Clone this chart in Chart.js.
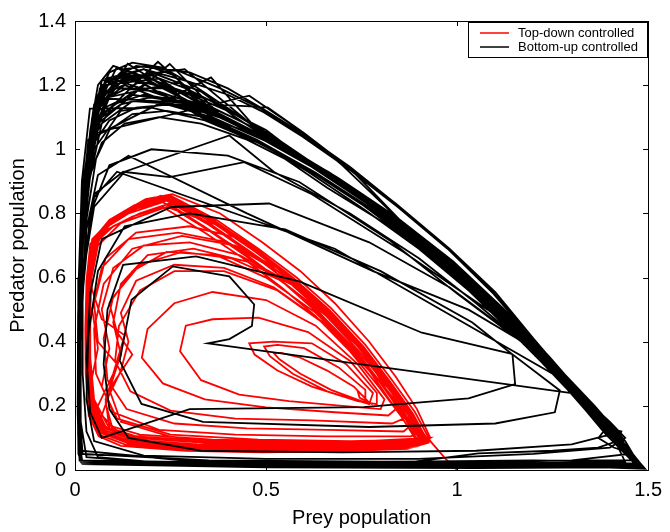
<!DOCTYPE html>
<html>
<head>
<meta charset="utf-8">
<script src="https://cdn.jsdelivr.net/npm/chart.js@4.4.1/dist/chart.umd.min.js"></script>
<style>
    body { margin: 0; background: #fff; }
</style>
</head>
<body>
<canvas id="phaseChart" width="670" height="532"></canvas>
<script>
var seriesNames = ["Top-down controlled", "Bottom-up controlled"];
var seriesColors = ["#ff0000", "#000000"];
var preyTicks = [0, 0.5, 1, 1.5];
var preyTickLabels = ["0", "0.5", "1", "1.5"];
var predatorTicks = [0, 0.2, 0.4, 0.6, 0.8, 1, 1.2, 1.4];
var predatorTickLabels = ["0", "0.2", "0.4", "0.6", "0.8", "1", "1.2", "1.4"];

// [prey, predator] pairs
var topDownTransient = [
    [0.76,0.225],[0.74,0.245],[0.745,0.225],[0.77,0.21],
    [0.73,0.26],[0.66,0.31],[0.59,0.35],[0.54,0.365],[0.52,0.365],[0.535,0.345],[0.59,0.30],[0.67,0.25],[0.76,0.21],
    [0.76,0.25],[0.69,0.32],[0.60,0.38],[0.53,0.39],[0.495,0.385],[0.51,0.355],[0.57,0.30],[0.66,0.245],[0.77,0.205],
    [0.78,0.24],[0.71,0.33],[0.62,0.395],[0.52,0.40],[0.456,0.395],[0.47,0.36],[0.53,0.31],[0.62,0.26],[0.74,0.215],[0.79,0.205],
    [0.79,0.24],[0.72,0.34],[0.61,0.43],[0.48,0.475],[0.36,0.47],[0.29,0.45],[0.275,0.37],[0.33,0.28],[0.43,0.235],[0.56,0.215],[0.70,0.20],[0.80,0.19],
    [0.81,0.22],[0.74,0.33],[0.63,0.45],[0.50,0.53],[0.36,0.555],[0.26,0.52],[0.19,0.44],[0.175,0.35],[0.23,0.27],[0.34,0.22],[0.50,0.195],[0.68,0.18],[0.82,0.17],
    [0.84,0.19],[0.77,0.31],[0.66,0.45],[0.53,0.56],[0.39,0.62],[0.26,0.62],[0.17,0.56],[0.115,0.45],[0.105,0.34],[0.145,0.245],[0.25,0.185],[0.42,0.16],[0.62,0.155],[0.83,0.145],
    [0.86,0.16],[0.79,0.30],[0.68,0.46],[0.54,0.59],[0.41,0.66],[0.28,0.68],[0.17,0.64],[0.10,0.54],[0.075,0.41],[0.085,0.28],[0.135,0.19],[0.26,0.145],[0.45,0.13],[0.66,0.125],[0.86,0.12],
    [0.88,0.14],[0.81,0.28],[0.70,0.45],[0.56,0.61],[0.42,0.70],[0.28,0.73],[0.15,0.69],[0.075,0.58],[0.05,0.44],[0.055,0.30],[0.10,0.18],[0.22,0.125],[0.42,0.11],[0.66,0.105],[0.88,0.105],
    [0.90,0.12],[0.83,0.26],[0.71,0.43],[0.57,0.58],[0.43,0.67],[0.30,0.71],[0.18,0.70],[0.10,0.63],[0.07,0.50],[0.09,0.38],[0.07,0.26],[0.11,0.16],[0.25,0.11],[0.48,0.095],[0.72,0.09],[0.90,0.095],
    [0.91,0.11],[0.84,0.25],[0.72,0.42],[0.58,0.57],[0.45,0.65],[0.31,0.69],[0.19,0.67],[0.12,0.58],[0.10,0.46],[0.12,0.36],[0.09,0.25],[0.12,0.15],[0.26,0.10],[0.50,0.085],[0.74,0.083],[0.91,0.09],
    [0.90,0.13],[0.82,0.27],[0.71,0.44],[0.57,0.60],[0.44,0.72],[0.30,0.76],[0.16,0.74],[0.08,0.66],[0.05,0.52],[0.06,0.40],[0.11,0.33],[0.08,0.22],[0.09,0.13],[0.18,0.085],[0.40,0.07],[0.66,0.068],[0.89,0.075],
    [0.91,0.10],[0.85,0.22],[0.76,0.36],[0.65,0.50],[0.52,0.64],[0.38,0.76],[0.24,0.82],[0.12,0.77],[0.06,0.70],[0.04,0.58],[0.07,0.47],[0.13,0.42],[0.10,0.30],[0.06,0.20],[0.07,0.12],[0.14,0.09],[0.34,0.075],[0.60,0.07],[0.85,0.075],
    [0.90,0.10],[0.84,0.21],[0.75,0.35],[0.63,0.49],[0.50,0.60],[0.37,0.67],[0.24,0.68],[0.15,0.62],[0.09,0.52],[0.11,0.43],[0.15,0.36],[0.10,0.27],[0.07,0.17],[0.12,0.11],[0.30,0.09],[0.55,0.085],[0.80,0.085],
    [0.91,0.09],[0.85,0.20],[0.76,0.33],[0.65,0.46],[0.52,0.57],[0.39,0.63],[0.26,0.64],[0.16,0.59],[0.12,0.49],[0.14,0.40],[0.12,0.31],[0.08,0.21],[0.10,0.12],[0.22,0.08],[0.45,0.07],[0.72,0.07],[0.90,0.08],
    [0.92,0.10],[0.86,0.21],[0.77,0.35],[0.66,0.49],[0.53,0.62],[0.40,0.71],[0.27,0.74],[0.14,0.72],[0.07,0.63],[0.045,0.50],[0.06,0.38],[0.04,0.26],[0.05,0.15],[0.10,0.10],[0.28,0.08],[0.55,0.078],[0.82,0.08]
];

var topDownCycle = [
    [0.90,0.085],[0.86,0.17],[0.80,0.27],[0.73,0.38],[0.64,0.49],[0.55,0.58],[0.45,0.67],[0.35,0.75],[0.245,0.83],[0.17,0.80],[0.10,0.76],[0.055,0.71],[0.04,0.60],[0.035,0.46],[0.035,0.32],[0.045,0.20],[0.075,0.125],[0.15,0.095],[0.32,0.08],[0.52,0.075],[0.72,0.075],[0.88,0.08],
    [0.91,0.09],[0.87,0.175],[0.81,0.275],[0.74,0.385],[0.65,0.50],[0.56,0.595],[0.46,0.68],[0.35,0.77],[0.235,0.85],[0.16,0.82],[0.095,0.78],[0.045,0.72],[0.033,0.60],[0.03,0.46],[0.03,0.31],[0.04,0.19],[0.07,0.115],[0.14,0.085],[0.32,0.07],[0.52,0.066],[0.72,0.068],[0.89,0.075],
    [0.92,0.095],[0.88,0.18],[0.82,0.28],[0.75,0.39],[0.66,0.505],[0.57,0.60],[0.47,0.69],[0.36,0.78],[0.24,0.855],[0.165,0.83],[0.10,0.785],[0.05,0.725],[0.036,0.61],[0.032,0.47],[0.033,0.32],[0.042,0.20],[0.072,0.12],[0.145,0.09],[0.33,0.075],[0.53,0.07],[0.73,0.07],[0.90,0.078],
    [0.915,0.09],[0.875,0.18],[0.815,0.285],[0.745,0.395],[0.655,0.51],[0.565,0.605],[0.465,0.695],[0.355,0.785],[0.23,0.845],[0.15,0.81],[0.085,0.765],[0.042,0.705],[0.03,0.59],[0.028,0.45],[0.03,0.30],[0.038,0.18],[0.065,0.11],[0.13,0.08],[0.30,0.065],[0.50,0.06],[0.70,0.062],[0.88,0.07],
    [0.925,0.085],[0.885,0.175],[0.825,0.275],[0.755,0.385],[0.665,0.50],[0.575,0.595],[0.475,0.685],[0.365,0.775],[0.25,0.85],[0.175,0.835],[0.11,0.79],[0.06,0.73],[0.04,0.62],[0.036,0.48],[0.036,0.33],[0.046,0.21],[0.078,0.13],[0.155,0.10],[0.34,0.085],[0.54,0.08],[0.74,0.08],[0.91,0.085],
    [0.92,0.09],[0.875,0.17],[0.81,0.27],[0.74,0.375],[0.65,0.49],[0.56,0.585],[0.46,0.675],[0.35,0.765],[0.24,0.84],[0.16,0.815],[0.09,0.77],[0.045,0.715],[0.032,0.60],[0.029,0.46],[0.031,0.31],[0.04,0.19],[0.068,0.115],[0.14,0.083],[0.31,0.068],[0.51,0.063],[0.71,0.065],[0.89,0.072],
    [0.91,0.095],[0.87,0.185],[0.805,0.29],[0.735,0.40],[0.645,0.515],[0.555,0.61],[0.455,0.70],[0.345,0.79],[0.225,0.855],[0.155,0.825],[0.09,0.78],[0.048,0.72],[0.034,0.61],[0.031,0.47],[0.032,0.32],[0.041,0.195],[0.07,0.12],[0.14,0.088],[0.32,0.072],[0.52,0.068],[0.72,0.07],[0.90,0.076],
    [0.92,0.088],[0.88,0.172],[0.82,0.272],[0.75,0.382],[0.66,0.496],[0.57,0.592],[0.47,0.682],[0.36,0.772],[0.245,0.845],[0.17,0.82],[0.10,0.775],[0.052,0.715],[0.037,0.60],[0.033,0.46],[0.034,0.315],[0.044,0.195],[0.074,0.118],[0.15,0.088],[0.33,0.073],[0.53,0.068],[0.73,0.069],[0.90,0.076],
    [0.93,0.10],[0.895,0.19],[0.84,0.29],[0.77,0.40],[0.68,0.52],[0.59,0.62],[0.49,0.71],[0.38,0.80],[0.255,0.86],[0.185,0.845],[0.12,0.80],[0.07,0.745],[0.045,0.64],[0.04,0.50],[0.04,0.35],[0.05,0.22],[0.085,0.14],[0.17,0.11],[0.36,0.095],[0.56,0.09],[0.76,0.09],[0.93,0.10],
    [0.90,0.08],[0.855,0.165],[0.795,0.26],[0.72,0.37],[0.63,0.48],[0.54,0.57],[0.44,0.66],[0.34,0.74],[0.23,0.82],[0.15,0.79],[0.085,0.75],[0.04,0.70],[0.03,0.58],[0.027,0.44],[0.028,0.30],[0.036,0.17],[0.062,0.105],[0.12,0.075],[0.29,0.06],[0.49,0.055],[0.69,0.058],[0.87,0.066],
    [0.93,0.09],[0.89,0.18],[0.83,0.28],[0.76,0.39],[0.67,0.505],[0.58,0.60],[0.48,0.69],[0.37,0.78],[0.25,0.855],[0.18,0.84],[0.115,0.795],[0.065,0.735],[0.042,0.63],[0.037,0.49],[0.037,0.34],[0.048,0.215],[0.08,0.135],[0.16,0.105],[0.35,0.09],[0.55,0.086],[0.75,0.086],[0.92,0.09],
    [0.91,0.085],[0.865,0.17],[0.80,0.27],[0.73,0.375],[0.64,0.485],[0.55,0.58],[0.45,0.665],[0.34,0.755],[0.23,0.835],[0.14,0.80],[0.08,0.755],[0.04,0.705],[0.03,0.59],[0.028,0.45],[0.029,0.31],[0.037,0.18],[0.064,0.11],[0.13,0.08],[0.30,0.064],[0.50,0.06],[0.70,0.061],[0.88,0.07],
    [0.915,0.092],[0.872,0.178],[0.812,0.28],[0.742,0.39],[0.652,0.505],[0.562,0.60],[0.462,0.69],[0.352,0.78],[0.238,0.85],[0.162,0.825],[0.095,0.78],[0.047,0.72],[0.034,0.605],[0.03,0.465],[0.031,0.315],[0.04,0.19],[0.069,0.115],[0.14,0.084],[0.315,0.069],[0.515,0.064],[0.715,0.066],[0.895,0.074],[0.93,0.09],[0.97,0.035],[1.0,0.0]
];

var bottomUpTransient = [
    [1.30,0.24],[0.348,0.395],[0.404,0.408],[0.463,0.449],[0.469,0.516],[0.404,0.604],[0.256,0.635],[0.148,0.531],[0.117,0.341],[0.174,0.206],[0.335,0.150],[0.77,0.134],[1.10,0.145],[1.256,0.18],[1.269,0.248],[1.143,0.362],[0.908,0.428],[0.587,0.588],[0.317,0.666],[0.126,0.64],[0.085,0.50],[0.075,0.33],[0.09,0.19],[0.14,0.10],[0.33,0.06],[0.70,0.055],[1.05,0.06],[1.30,0.08],[1.40,0.11],
    [1.38,0.17],[1.30,0.27],[1.16,0.41],[0.98,0.57],[0.77,0.71],[0.508,0.831],[0.252,0.82],[0.07,0.72],[0.04,0.55],[0.03,0.35],[0.04,0.18],[0.07,0.10],[0.30,0.19],[0.756,0.196],[1.03,0.223],[1.152,0.268],[1.145,0.36],[1.04,0.46],[0.80,0.62],[0.55,0.75],[0.30,0.80],[0.13,0.76],[0.06,0.62],[0.035,0.42],[0.03,0.22],[0.05,0.09],[0.18,0.045],[0.50,0.035],[0.90,0.035],[1.20,0.05],[1.40,0.07],[1.44,0.10],
    [1.40,0.15],[1.30,0.26],[1.18,0.39],[1.00,0.55],[0.826,0.714],[0.587,0.898],[0.40,0.98],[0.20,1.00],[0.09,0.95],[0.04,0.80],[0.02,0.55],[0.02,0.30],[0.03,0.12],[0.06,0.04],[0.25,0.02],[0.60,0.02],[1.00,0.022],[1.30,0.03],[1.45,0.05],
    [1.43,0.10],[1.35,0.20],[1.25,0.30],[0.68,0.69],[0.11,0.93],[0.05,0.85],[0.025,0.65],[0.015,0.40],[0.015,0.15],[0.03,0.04],[0.30,0.015],[0.80,0.012],[1.056,0.052],[1.25,0.06],[1.369,0.07],[1.42,0.09],[1.43,0.12],[1.39,0.13],[1.37,0.10],[1.41,0.07],[1.46,0.05],
    [1.44,0.09],[1.36,0.20],[1.24,0.35],[1.08,0.50],[0.86,0.68],[0.62,0.86],[0.443,0.96],[0.248,0.913],[0.126,0.93],[0.05,0.86],[0.025,0.66],[0.014,0.42],[0.012,0.18],[0.02,0.05],[0.35,0.03],[0.90,0.025],[1.30,0.03],[1.46,0.03],
    [1.42,0.11],[1.33,0.23],[1.20,0.38],[1.03,0.50],[0.78,0.62],[0.45,0.80],[0.14,0.98],[0.06,0.92],[0.03,0.75],[0.016,0.50],[0.012,0.25],[0.015,0.06],[0.30,0.028],[0.80,0.025],[1.20,0.03],[1.44,0.025],
    [1.41,0.10],[1.31,0.24],[1.19,0.38],[1.05,0.52],[0.90,0.66],[0.72,0.80],[0.52,0.93],[0.404,1.043],[0.13,0.93],[0.05,0.82],[0.02,0.60],[0.012,0.35],[0.01,0.12],[0.015,0.03]
];

var bottomUpCycle = [
    [0.015,0.03],[0.40,0.012],[0.95,0.008],[1.35,0.01],[1.485,0.006],[1.42,0.09],[1.32,0.23],[1.21,0.38],[1.09,0.53],[0.96,0.67],[0.82,0.80],[0.67,0.92],[0.52,1.02],[0.38,1.10],[0.217,1.273],[0.05,1.08],[0.02,0.82],[0.01,0.52],[0.008,0.24],[0.01,0.07],
    [0.02,0.02],[0.45,0.01],[1.0,0.006],[1.38,0.008],[1.49,0.004],[1.43,0.085],[1.33,0.225],[1.22,0.375],[1.10,0.525],[0.97,0.665],[0.83,0.795],[0.68,0.915],[0.53,1.015],[0.39,1.095],[0.248,1.266],[0.04,1.06],[0.018,0.80],[0.009,0.50],[0.007,0.22],[0.009,0.06],
    [0.018,0.025],[0.42,0.015],[0.92,0.012],[1.33,0.015],[1.48,0.01],[1.41,0.095],[1.31,0.235],[1.19,0.385],[1.07,0.535],[0.94,0.675],[0.80,0.805],[0.65,0.925],[0.50,1.025],[0.36,1.10],[0.138,1.267],[0.06,1.12],[0.025,0.88],[0.012,0.58],[0.009,0.28],[0.011,0.08],
    [0.016,0.028],[0.38,0.018],[0.90,0.014],[1.30,0.016],[1.475,0.012],[1.40,0.10],[1.29,0.25],[1.17,0.40],[1.04,0.55],[0.90,0.69],[0.76,0.81],[0.61,0.93],[0.47,1.03],[0.33,1.10],[0.109,1.255],[0.045,1.10],[0.02,0.86],[0.01,0.56],[0.008,0.26],[0.01,0.07],
    [0.02,0.022],[0.50,0.009],[1.05,0.007],[1.40,0.009],[1.49,0.005],[1.44,0.075],[1.35,0.20],[1.24,0.35],[1.12,0.50],[0.99,0.65],[0.85,0.78],[0.72,0.94],[0.60,1.05],[0.456,1.167],[0.05,1.05],[0.02,0.80],[0.01,0.50],[0.008,0.22],[0.01,0.06],
    [0.018,0.024],[0.44,0.013],[0.98,0.01],[1.36,0.012],[1.485,0.008],[1.42,0.09],[1.32,0.235],[1.20,0.39],[1.075,0.54],[0.94,0.68],[0.795,0.81],[0.645,0.93],[0.50,1.03],[0.356,1.224],[0.035,1.03],[0.015,0.78],[0.008,0.48],[0.007,0.20],[0.009,0.05],
    [0.016,0.026],[0.40,0.016],[0.94,0.013],[1.34,0.014],[1.48,0.009],[1.415,0.095],[1.315,0.24],[1.20,0.39],[1.08,0.54],[0.95,0.68],[0.81,0.81],[0.66,0.93],[0.51,1.03],[0.287,1.25],[0.07,1.214],[0.03,0.95],[0.014,0.66],[0.009,0.36],[0.008,0.12],[0.012,0.035],
    [0.02,0.02],[0.46,0.011],[1.00,0.009],[1.37,0.011],[1.487,0.007],[1.425,0.088],[1.325,0.23],[1.215,0.38],[1.095,0.53],[0.965,0.67],[0.825,0.80],[0.675,0.92],[0.525,1.02],[0.385,1.10],[0.25,1.16],[0.086,1.224],[0.035,1.00],[0.016,0.72],[0.009,0.42],[0.008,0.15],[0.012,0.04],
    [0.017,0.026],[0.41,0.017],[0.93,0.015],[1.32,0.017],[1.475,0.013],[1.405,0.10],[1.30,0.245],[1.18,0.395],[1.055,0.545],[0.92,0.685],[0.78,0.81],[0.63,0.925],[0.48,1.02],[0.34,1.09],[0.20,1.13],[0.039,1.127],[0.018,0.90],[0.01,0.60],[0.008,0.30],[0.009,0.09],
    [0.019,0.023],[0.48,0.012],[1.02,0.01],[1.39,0.012],[1.49,0.006],[1.435,0.08],[1.34,0.215],[1.23,0.365],[1.11,0.515],[0.98,0.66],[0.84,0.79],[0.70,0.95],[0.60,1.05],[0.504,1.131],[0.06,1.16],[0.025,0.90],[0.012,0.60],[0.008,0.30],[0.009,0.08],
    [0.015,0.03],[0.36,0.02],[0.88,0.016],[1.28,0.018],[1.47,0.014],[1.395,0.105],[1.29,0.255],[1.165,0.405],[1.04,0.555],[0.905,0.695],[0.765,0.82],[0.615,0.935],[0.465,1.035],[0.325,1.11],[0.17,1.21],[0.05,1.14],[0.022,0.90],[0.011,0.60],[0.008,0.30],[0.01,0.09],
    [0.02,0.021],[0.47,0.01],[1.01,0.008],[1.38,0.01],[1.488,0.006],[1.43,0.083],[1.335,0.22],[1.225,0.37],[1.105,0.52],[0.975,0.66],[0.835,0.79],[0.685,0.91],[0.535,1.01],[0.395,1.09],[0.16,1.235],[0.065,1.19],[0.028,0.94],[0.013,0.64],[0.008,0.34],[0.008,0.11],[0.013,0.03],
    [0.018,0.025],[0.43,0.014],[0.96,0.011],[1.35,0.013],[1.482,0.009],[1.418,0.092],[1.318,0.236],[1.205,0.388],[1.085,0.538],[0.955,0.678],[0.815,0.808],[0.665,0.928],[0.515,1.028],[0.37,1.105],[0.23,1.19],[0.10,1.19],[0.04,1.02],[0.017,0.76],[0.009,0.46],[0.007,0.18],[0.01,0.05],
    [0.017,0.027],[0.39,0.019],[0.91,0.016],[1.31,0.02],[1.472,0.015],[1.40,0.105],[1.295,0.25],[1.175,0.40],[1.05,0.55],[0.915,0.69],[0.775,0.815],[0.625,0.93],[0.475,1.03],[0.335,1.105],[0.13,1.20],[0.055,1.13],[0.024,0.88],[0.012,0.58],[0.008,0.28],[0.01,0.08],
    [0.02,0.019],[0.49,0.009],[1.04,0.007],[1.40,0.008],[1.49,0.004],[1.44,0.078],[1.345,0.21],[1.235,0.36],[1.115,0.51],[0.985,0.655],[0.845,0.785],[0.695,0.905],[0.545,1.005],[0.405,1.085],[0.30,1.17],[0.19,1.21],[0.045,1.09],[0.02,0.84],[0.01,0.54],[0.008,0.24],[0.01,0.06],
    [0.016,0.028],[0.37,0.02],[0.89,0.017],[1.29,0.02],[1.47,0.016],[1.39,0.11],[1.285,0.26],[1.16,0.41],[1.03,0.56],[0.895,0.70],[0.755,0.825],[0.605,0.94],[0.455,1.04],[0.32,1.115],[0.12,1.24],[0.06,1.17],[0.026,0.92],[0.012,0.62],[0.008,0.32],[0.01,0.10],
    [0.019,0.022],[0.45,0.012],[0.99,0.009],[1.37,0.011],[1.486,0.007],[1.428,0.086],[1.328,0.228],[1.218,0.378],[1.098,0.528],[0.968,0.668],[0.828,0.798],[0.678,0.918],[0.528,1.018],[0.388,1.098],[0.27,1.21],[0.08,1.16],[0.033,0.96],[0.015,0.70],[0.009,0.40],[0.008,0.14],[0.012,0.04],
    [0.017,0.026],[0.41,0.016],[0.93,0.013],[1.33,0.015],[1.479,0.01],[1.412,0.096],[1.31,0.242],[1.193,0.392],[1.07,0.542],[0.937,0.682],[0.797,0.807],[0.647,0.927],[0.497,1.027],[0.357,1.10],[0.24,1.14],[0.12,1.12],[0.05,1.00],[0.02,0.76],[0.01,0.46],[0.008,0.18],[0.01,0.05],
    [0.02,0.02],[0.46,0.011],[1.0,0.008],[1.38,0.01],[1.488,0.005],[1.432,0.082],[1.337,0.218],[1.227,0.368],[1.107,0.518],[0.977,0.658],[0.837,0.788],[0.687,0.908],[0.537,1.008],[0.42,1.10],[0.33,1.18],[0.20,1.24],[0.09,1.18],[0.038,0.98],[0.016,0.72],[0.009,0.42],[0.008,0.15],[0.012,0.04],
    [0.018,0.025],[0.42,0.015],[0.95,0.012],[1.34,0.014],[1.48,0.01],[1.415,0.094],[1.315,0.238],[1.20,0.39],[1.08,0.54],[0.948,0.68],[0.808,0.808],[0.658,0.928],[0.508,1.028],[0.368,1.105],[0.26,1.15],[0.15,1.17],[0.06,1.12],[0.025,0.88],[0.012,0.58],[0.008,0.28],[0.01,0.08],
    [0.017,0.027],[0.38,0.018],[0.90,0.015],[1.30,0.018],[1.474,0.014],[1.402,0.102],[1.297,0.248],[1.178,0.398],[1.053,0.548],[0.918,0.688],[0.778,0.813],[0.628,0.928],[0.478,1.028],[0.34,1.10],[0.22,1.22],[0.075,1.20],[0.03,0.95],[0.014,0.66],[0.009,0.36],[0.008,0.12],[0.012,0.035],
    [0.02,0.021],[0.47,0.011],[1.02,0.009],[1.38,0.011],[1.487,0.006],[1.43,0.085],[1.33,0.225],[1.22,0.375],[1.10,0.525],[0.97,0.665],[0.83,0.795],[0.68,0.915],[0.53,1.015],[0.39,1.095],[0.27,1.14],[0.15,1.15],[0.07,1.08],[0.03,0.86],[0.013,0.58],[0.008,0.28],[0.01,0.08],
    [0.016,0.028],[0.40,0.02],[0.92,0.016],[1.32,0.018],[1.492,0.004],[1.40,0.13],[1.30,0.27],[1.20,0.41],[1.10,0.555],[0.98,0.69],[0.85,0.82],[0.72,0.945],[0.60,1.045],[0.50,1.12],[0.40,1.19],[0.30,1.24],[0.16,1.26],[0.07,1.20],[0.03,0.96],[0.014,0.66],[0.009,0.36],[0.008,0.12],[0.012,0.035],
    [0.018,0.024],[0.44,0.013],[0.97,0.01],[1.36,0.012],[1.49,0.005],[1.395,0.135],[1.29,0.28],[1.19,0.42],[1.09,0.56],[0.97,0.70],[0.84,0.83],[0.71,0.95],[0.59,1.05],[0.49,1.125],[0.38,1.19],[0.26,1.25],[0.10,1.21],[0.04,1.03],[0.017,0.76],[0.009,0.46],[0.007,0.18],[0.01,0.05],
    [0.02,0.02],[0.48,0.01],[1.03,0.008],[1.39,0.01],[1.49,0.006],[1.40,0.125],[1.30,0.265],[1.195,0.41],[1.095,0.55],[0.975,0.69],[0.845,0.82],[0.715,0.94],[0.595,1.04],[0.495,1.115],[0.40,1.17],[0.30,1.21],[0.18,1.25],[0.08,1.22],[0.035,0.98],[0.015,0.70],[0.009,0.40],[0.008,0.14],[0.012,0.04],
    [0.012,0.03],[0.45,0.022],[1.0,0.02],[1.38,0.024],[1.47,0.02],[1.41,0.10],[1.31,0.245],[1.19,0.40],[1.06,0.555],[0.92,0.70],[0.77,0.835],[0.62,0.95],[0.47,1.05],[0.34,1.13],[0.22,1.18],[0.12,1.19],[0.06,1.14],[0.035,1.02],[0.02,0.80],[0.01,0.50],[0.008,0.20],[0.01,0.06],
    [0.015,0.025],[0.40,0.015],[0.95,0.012],[1.35,0.015],[1.485,0.008],[1.415,0.095],[1.315,0.24],[1.195,0.395],[1.07,0.55],[0.93,0.695],[0.78,0.83],[0.63,0.945],[0.48,1.045],[0.33,1.14],[0.24,1.20],[0.15,1.24],[0.10,1.26],[0.06,1.20],[0.04,1.06],[0.025,0.85],[0.012,0.55],[0.008,0.25],[0.01,0.07],
    [0.018,0.022],[0.43,0.012],[0.97,0.01],[1.36,0.012],[1.487,0.006],[1.43,0.08],[1.34,0.21],[1.23,0.36],[1.10,0.51],[0.96,0.64],[0.81,0.77],[0.66,0.88],[0.55,0.97],[0.45,1.03],[0.33,1.08],[0.22,1.10],[0.13,1.08],[0.07,1.02],[0.04,0.92],[0.02,0.70],[0.01,0.40],[0.008,0.15],[0.012,0.04],
    [0.017,0.026],[0.41,0.017],[0.94,0.014],[1.33,0.016],[1.48,0.01],[1.405,0.10],[1.30,0.25],[1.18,0.405],[1.05,0.56],[0.91,0.705],[0.76,0.84],[0.61,0.96],[0.50,1.06],[0.40,1.12],[0.30,1.17],[0.21,1.20],[0.14,1.22],[0.08,1.18],[0.05,1.08],[0.03,0.90],[0.015,0.62],[0.009,0.32],[0.01,0.10],
    [0.02,0.02],[0.47,0.01],[1.01,0.008],[1.38,0.01],[1.489,0.005],[1.425,0.09],[1.325,0.235],[1.21,0.385],[1.085,0.54],[0.945,0.685],[0.80,0.815],[0.65,0.935],[0.52,1.04],[0.46,1.08],[0.36,1.15],[0.26,1.19],[0.18,1.25],[0.11,1.22],[0.05,1.12],[0.028,0.92],[0.013,0.62],[0.008,0.30],[0.01,0.08],
    [0.016,0.028],[0.39,0.02],[0.91,0.017],[1.31,0.019],[1.476,0.012],[1.40,0.11],[1.295,0.255],[1.175,0.41],[1.045,0.565],[0.905,0.71],[0.76,0.845],[0.615,0.96],[0.48,1.06],[0.36,1.13],[0.27,1.16],[0.19,1.16],[0.12,1.14],[0.07,1.10],[0.04,1.00],[0.022,0.78],[0.011,0.48],[0.008,0.18],[0.01,0.05],
    [0.019,0.022],[0.46,0.011],[1.0,0.009],[1.37,0.011],[1.487,0.006],[1.428,0.085],[1.33,0.225],[1.22,0.375],[1.10,0.525],[0.965,0.67],[0.825,0.80],[0.675,0.92],[0.53,1.02],[0.41,1.12],[0.31,1.20],[0.23,1.255],[0.15,1.27],[0.09,1.24],[0.055,1.15],[0.035,0.98],[0.017,0.70],[0.009,0.40],[0.008,0.13],[0.012,0.035],
    [0.017,0.026],[0.42,0.016],[0.95,0.013],[1.34,0.015],[1.48,0.009],[1.41,0.098],[1.305,0.245],[1.185,0.40],[1.06,0.55],[0.925,0.69],[0.785,0.82],[0.635,0.935],[0.49,1.035],[0.36,1.11],[0.25,1.14],[0.16,1.13],[0.09,1.09],[0.05,1.02],[0.03,0.86],[0.015,0.60],[0.009,0.30],[0.01,0.09],
    [0.02,0.021],[0.48,0.011],[1.02,0.009],[1.39,0.011],[1.489,0.005],[1.435,0.08],[1.34,0.215],[1.23,0.365],[1.11,0.515],[0.98,0.66],[0.84,0.79],[0.69,0.91],[0.55,1.01],[0.43,1.09],[0.32,1.15],[0.20,1.22],[0.12,1.23],[0.07,1.16],[0.045,1.04],[0.025,0.84],[0.012,0.56],[0.008,0.26],[0.01,0.07],
    [0.016,0.027],[0.38,0.019],[0.90,0.016],[1.30,0.018],[1.474,0.013],[1.398,0.108],[1.292,0.255],[1.172,0.405],[1.045,0.56],[0.91,0.70],[0.765,0.83],[0.62,0.945],[0.475,1.045],[0.345,1.12],[0.26,1.23],[0.19,1.26],[0.13,1.25],[0.075,1.19],[0.045,1.07],[0.027,0.88],[0.013,0.58],[0.008,0.28],[0.01,0.08],
    [0.018,0.024],[0.44,0.013],[0.98,0.011],[1.36,0.013],[1.484,0.008],[1.42,0.092],[1.32,0.237],[1.205,0.39],[1.08,0.545],[0.945,0.685],[0.80,0.815],[0.655,0.93],[0.51,1.03],[0.38,1.11],[0.28,1.15],[0.18,1.17],[0.10,1.14],[0.06,1.06],[0.035,0.92],[0.018,0.66],[0.009,0.36],[0.008,0.12],[0.012,0.03],
    [0.02,0.018],[0.50,0.008],[1.05,0.006],[1.40,0.008],[1.491,0.004],[1.445,0.072],[1.35,0.205],[1.24,0.355],[1.12,0.505],[0.99,0.65],[0.85,0.78],[0.70,0.90],[0.56,1.00],[0.44,1.06],[0.34,1.10],[0.24,1.12],[0.15,1.11],[0.09,1.06],[0.055,0.97],[0.03,0.78],[0.015,0.50],[0.009,0.22],[0.01,0.06],
    [0.017,0.026],[0.41,0.017],[0.93,0.014],[1.32,0.017],[1.478,0.011],[1.408,0.10],[1.302,0.248],[1.183,0.40],[1.058,0.552],[0.92,0.695],[0.775,0.83],[0.63,0.95],[0.50,1.05],[0.39,1.13],[0.29,1.19],[0.20,1.23],[0.12,1.21],[0.065,1.13],[0.04,1.00],[0.02,0.76],[0.01,0.46],[0.008,0.16],[0.012,0.04]
];

function toPoints(pairs) {
    return pairs.map(function (p) { return { x: p[0], y: p[1] }; });
}

// box, inward ticks and legend drawn the matlab way
var framePlugin = {
    id: 'frame',
    afterDraw: function (chart) {
        var ctx = chart.ctx;
        var a = chart.chartArea;
        var xs = chart.scales.x;
        var ys = chart.scales.y;
        var tick = 5;
        ctx.save();
        ctx.strokeStyle = '#000';
        ctx.lineWidth = 1;
        ctx.strokeRect(Math.round(a.left) + 0.5, Math.round(a.top) + 0.5,
            Math.round(a.right - a.left), Math.round(a.bottom - a.top));
        ctx.beginPath();
        preyTicks.forEach(function (v) {
            var px = Math.round(xs.getPixelForValue(v)) + 0.5;
            ctx.moveTo(px, a.bottom); ctx.lineTo(px, a.bottom - tick);
            ctx.moveTo(px, a.top); ctx.lineTo(px, a.top + tick);
        });
        predatorTicks.forEach(function (v) {
            var py = Math.round(ys.getPixelForValue(v)) + 0.5;
            ctx.moveTo(a.left, py); ctx.lineTo(a.left + tick, py);
            ctx.moveTo(a.right, py); ctx.lineTo(a.right - tick, py);
        });
        ctx.stroke();

        // legend box
        var bx = 468, by = 22, bw = 179, bh = 35;
        ctx.fillStyle = '#fff';
        ctx.fillRect(bx, by, bw, bh);
        ctx.strokeRect(bx + 0.5, by + 0.5, bw, bh);
        ctx.font = '13px "Liberation Sans", Arial, sans-serif';
        ctx.textBaseline = 'middle';
        chart.data.datasets.forEach(function (ds, i) {
            var ly = by + 11 + i * 14;
            ctx.strokeStyle = ds.borderColor;
            ctx.lineWidth = 1.5;
            ctx.beginPath();
            ctx.moveTo(bx + 12, ly); ctx.lineTo(bx + 41, ly);
            ctx.stroke();
            ctx.fillStyle = '#000';
            ctx.fillText(ds.label, bx + 50, ly + 0.5);
        });
        ctx.restore();
    }
};

var tickFont = { family: '"Liberation Sans", Arial, sans-serif', size: 20 };
var titleFont = { family: '"Liberation Sans", Arial, sans-serif', size: 20 };

var phaseChart = new Chart(document.getElementById('phaseChart').getContext('2d'), {
    type: 'scatter',
    data: {
        datasets: [
            {
                label: seriesNames[0],
                data: toPoints(topDownTransient.concat(topDownCycle)),
                showLine: true,
                borderColor: seriesColors[0],
                borderWidth: 1.8,
                pointRadius: 0,
                tension: 0,
                order: 1
            },
            {
                label: seriesNames[1],
                data: toPoints(bottomUpTransient.concat(bottomUpCycle)),
                showLine: true,
                borderColor: seriesColors[1],
                borderWidth: 1.8,
                pointRadius: 0,
                tension: 0,
                order: 0
            }
        ]
    },
    options: {
        responsive: false,
        animation: false,
        layout: { padding: { top: 18, right: 19, left: 0, bottom: 0 } },
        plugins: {
            legend: { display: false },
            tooltip: { enabled: false }
        },
        scales: {
            x: {
                type: 'linear',
                min: 0,
                max: 1.5,
                grid: { display: false, drawTicks: false },
                border: { display: false },
                ticks: {
                    font: tickFont,
                    color: '#000',
                    padding: 8,
                    maxRotation: 0,
                    autoSkip: false,
                    callback: function (value, index) { return preyTickLabels[index]; }
                },
                title: {
                    display: true,
                    text: 'Prey population',
                    font: titleFont,
                    color: '#000',
                    padding: { top: 0, bottom: 2 }
                },
                afterBuildTicks: function (scale) {
                    scale.ticks = preyTicks.map(function (v) { return { value: v }; });
                },
                afterFit: function (scale) { scale.height = 62; }
            },
            y: {
                type: 'linear',
                min: 0,
                max: 1.4,
                grid: { display: false, drawTicks: false },
                border: { display: false },
                ticks: {
                    font: tickFont,
                    color: '#000',
                    padding: 9,
                    autoSkip: false,
                    callback: function (value, index) { return predatorTickLabels[index]; }
                },
                title: {
                    display: true,
                    text: 'Predator population',
                    font: titleFont,
                    color: '#000',
                    padding: { top: 6, bottom: 0 }
                },
                afterBuildTicks: function (scale) {
                    scale.ticks = predatorTicks.map(function (v) { return { value: v }; });
                },
                afterFit: function (scale) { scale.width = 75; }
            }
        }
    },
    plugins: [framePlugin]
});
</script>
</body>
</html>
